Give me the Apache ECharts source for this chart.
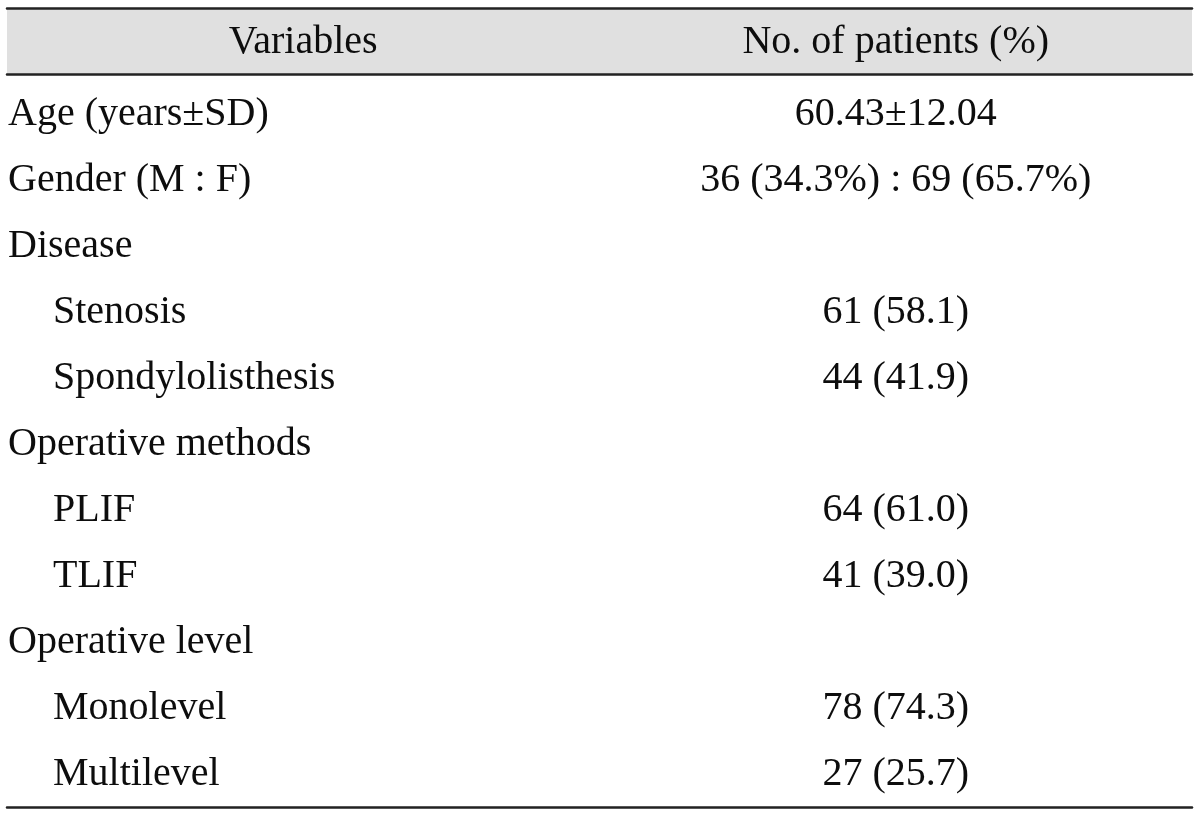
<!DOCTYPE html>
<html>
<head>
<meta charset="utf-8">
<script src="https://cdn.jsdelivr.net/npm/echarts@6/dist/echarts.min.js"></script>
<style>
  html, body { margin: 0; padding: 0; background: #ffffff; }
  #chart { width: 1200px; height: 817px; }
</style>
</head>
<body>
<div id="chart"></div>
<script>
// ---- table content ----
var columns = ['Variables', 'No. of patients (%)'];
var rowLabels = ['Age (years\u00b1SD)', 'Gender (M : F)', 'Disease', 'Stenosis', 'Spondylolisthesis',
  'Operative methods', 'PLIF', 'TLIF', 'Operative level', 'Monolevel', 'Multilevel'];
var rowValues = ['60.43\u00b112.04', '36 (34.3%) : 69 (65.7%)', '', '61 (58.1)', '44 (41.9)',
  '', '64 (61.0)', '41 (39.0)', '', '78 (74.3)', '27 (25.7)'];
var rowLevel = [0, 0, 0, 1, 1, 0, 1, 1, 0, 1, 1];

// ---- styles ----
var FONT = '40px "Liberation Serif", "Times New Roman", serif';
var TEXT_COLOR = '#0d0d0d';
var RULE_COLOR = '#222222';
var INDENT = [1, 46];
var TEXT_NUDGE_Y = 1;

var chart = echarts.init(document.getElementById('chart'), null, { renderer: 'canvas' });

var headerData = columns.map(function (c, i) { return [i, 0, c]; });
var bodyData = [];
rowLabels.forEach(function (lab, r) {
  bodyData.push([0, r, lab, rowLevel[r]]);
  if (rowValues[r] !== '') bodyData.push([1, r, rowValues[r], 0]);
});

function renderCell(params, api) {
  var col = api.value(0);
  var row = api.value(1);
  var text = api.value(2);
  var level = api.value(3) || 0;
  var pt = api.coord([col, row]);
  var bw = api.size([1, 0])[0];
  var x, align;
  if (params.seriesIndex === 1 && col === 0) {
    x = pt[0] - bw / 2 + INDENT[level];
    align = 'left';
  } else {
    x = pt[0];
    align = 'center';
  }
  return {
    type: 'text',
    x: x,
    y: pt[1] + TEXT_NUDGE_Y,
    style: {
      text: text,
      font: FONT,
      fill: TEXT_COLOR,
      align: align,
      verticalAlign: 'middle'
    }
  };
}

var option = {
  backgroundColor: '#ffffff',
  animation: false,
  grid: [
    { left: 7, right: 8, top: 8, height: 66, show: true, backgroundColor: '#e0e0e0', borderWidth: 0 },
    { left: 7, right: 8, top: 80, bottom: 10, show: false }
  ],
  xAxis: [
    { gridIndex: 0, type: 'category', data: columns, position: 'top',
      axisLine: { show: true, lineStyle: { color: RULE_COLOR, width: 2.5 } },
      axisTick: { show: false }, axisLabel: { show: false }, splitLine: { show: false } },
    { gridIndex: 0, type: 'category', data: columns, position: 'bottom',
      axisLine: { show: true, lineStyle: { color: RULE_COLOR, width: 2.5 } },
      axisTick: { show: false }, axisLabel: { show: false }, splitLine: { show: false } },
    { gridIndex: 1, type: 'category', data: columns, position: 'bottom',
      axisLine: { show: true, lineStyle: { color: RULE_COLOR, width: 2.5 } },
      axisTick: { show: false }, axisLabel: { show: false }, splitLine: { show: false } }
  ],
  yAxis: [
    { gridIndex: 0, type: 'category', data: ['header'], show: false },
    { gridIndex: 1, type: 'category', data: rowLabels, inverse: true, show: false }
  ],
  series: [
    { type: 'custom', xAxisIndex: 0, yAxisIndex: 0, data: headerData, renderItem: renderCell, silent: true },
    { type: 'custom', xAxisIndex: 2, yAxisIndex: 1, data: bodyData, renderItem: renderCell, silent: true }
  ]
};

chart.setOption(option);
</script>
</body>
</html>
